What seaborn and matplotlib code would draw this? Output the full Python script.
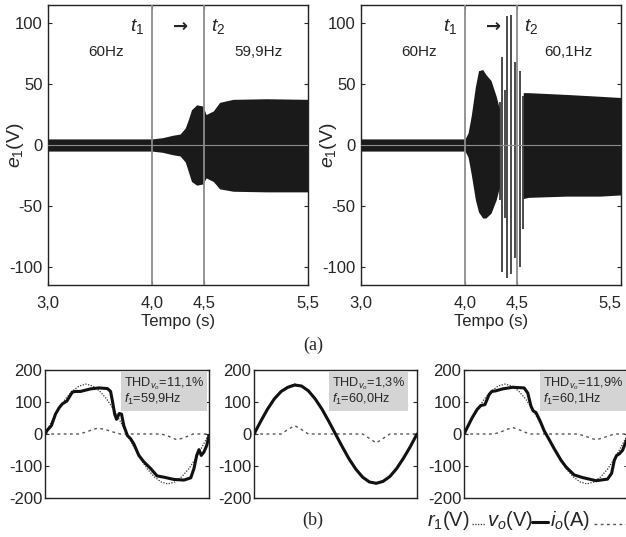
import numpy as np
import pandas as pd
import matplotlib.pyplot as plt
import seaborn as sns
from matplotlib.lines import Line2D

sns.set_style("ticks")
plt.rcParams['font.family'] = ['Liberation Sans', 'DejaVu Sans']
plt.rcParams['mathtext.fontset'] = 'custom'
plt.rcParams['mathtext.rm'] = 'Liberation Sans'
plt.rcParams['mathtext.it'] = 'Liberation Sans:italic'
plt.rcParams['axes.unicode_minus'] = False

# ---- (a) envelopes of e1 ----
t_a1 = [3.0, 4.0, 4.1, 4.2, 4.27, 4.32, 4.35, 4.38, 4.43, 4.49, 4.52, 4.59, 4.65, 4.78, 5.1, 5.5]
up_a1 = [5, 5, 6, 8, 9, 14, 21, 29, 33, 32, 25, 28, 35, 37.5, 38, 37.5]
lo_a1 = [-5, -5, -6, -8, -9, -14, -22, -30, -33, -32, -27, -30, -36, -38, -38.5, -38.5]

t_a2 = [3.0, 4.0, 4.03, 4.06, 4.1, 4.13, 4.17, 4.2, 4.25, 4.3, 4.33]
up_a2 = [5, 5, 10, 24, 48, 61, 62, 58, 53, 40, 30]
lo_a2 = [-5, -5, -10, -24, -45, -55, -60, -60, -56, -45, -35]
spike_t = [4.34, 4.36, 4.385, 4.40, 4.44, 4.48, 4.53, 4.555]
spike_top = [35, 72, 45, 106, 107, 68, 61, 40]
spike_bot = [-45, -104, -60, -109, -106, -93, -100, -69]
t_a3 = [4.56, 4.61, 4.98, 5.3, 5.5]
up_a3 = [43, 43, 41.5, 40, 39]
lo_a3 = [-44, -43, -42, -42, -41]

# ---- (b) one cycle, phase in degrees ----
deg = [0, 15, 30, 45, 60, 75, 90, 105, 120, 135, 150, 165, 180,
       195, 210, 225, 240, 255, 270, 285, 300, 315, 330, 345, 360]
r1 = [0, 40, 78, 110, 134, 150, 156, 150, 134, 110, 78, 40, 0,
      -40, -78, -110, -134, -150, -156, -150, -134, -110, -78, -40, 0]

vo1_x = [0, 5, 14, 23, 31, 38, 48, 60, 67, 78, 100, 118, 137, 144, 148, 153, 157, 163, 168, 173,
         181, 188, 195, 206, 217, 232, 246, 261, 283, 305, 320, 327, 333, 338, 343, 349, 355, 360]
vo1_y = [0, 12, 26, 62, 82, 94, 103, 131, 133, 133, 141, 144, 142, 133, 103, 62, 46, 64, 62, 26,
         -5, -15, -31, -67, -87, -108, -131, -135, -142, -144, -137, -108, -67, -49, -67, -56, -36, -5]
io1_x = [0, 75, 90, 105, 115, 130, 150, 165, 255, 270, 280, 290, 305, 325, 360]
io1_y = [0, 0, 6, 14, 18, 15, 6, 0, 0, -6, -13, -18, -12, 0, 0]

vo2 = [0, 40, 78, 110, 133, 146, 153, 150, 135, 110, 78, 40, 0,
       -40, -78, -110, -135, -150, -154, -148, -133, -108, -76, -40, 0]
io2_x = [0, 60, 75, 90, 105, 120, 240, 255, 270, 285, 300, 360]
io2_y = [0, 0, 14, 26, 14, 0, 0, -14, -28, -14, 0, 0]

vo3_x = [0, 7, 18, 29, 37, 46, 55, 61, 70, 85, 107, 132, 140, 147, 152, 158, 167, 176, 186,
         198, 213, 224, 231, 242, 260, 290, 315, 324, 330, 335, 341, 348, 355, 360]
vo3_y = [0, 20, 51, 77, 89, 92, 123, 133, 135, 141, 146, 144, 128, 87, 72, 67, 41, 10, -15,
         -46, -82, -103, -113, -128, -136, -146, -141, -123, -82, -67, -62, -51, -26, -8]
io3_x = [0, 66, 80, 95, 107, 120, 143, 250, 265, 280, 290, 305, 330, 360]
io3_y = [0, 0, 6, 15, 20, 14, 0, 0, -6, -14, -18, -12, 0, 0]

fig = plt.figure(figsize=(6.26, 5.37), dpi=100)
W, H = 626, 537

def px_axes(l, r, t, b):
    return fig.add_axes([l / W, 1 - b / H, (r - l) / W, (b - t) / H])

# ---------- top panels ----------
top1 = px_axes(48, 308, 5, 285)
top2 = px_axes(361, 621, 5, 285)

top1.fill_between(t_a1, lo_a1, up_a1, color='#1a1a1a', lw=0, zorder=2)
top2.fill_between(t_a2, lo_a2, up_a2, color='#1a1a1a', lw=0, zorder=2)
top2.vlines(spike_t, spike_bot, spike_top, color='#1a1a1a', lw=1.1, zorder=2)
top2.fill_between(t_a3, lo_a3, up_a3, color='#1a1a1a', lw=0, zorder=2)

labels_a = [("59,9Hz", 5.02), ("60,1Hz", 4.99)]
for ax, (hz, hx) in zip([top1, top2], labels_a):
    ax.axhline(0, color='#8c8c8c', lw=0.8, zorder=3)
    ax.axvline(4.0, color='#8c8c8c', lw=1.3, zorder=3)
    ax.axvline(4.5, color='#8c8c8c', lw=1.3, zorder=3)
    ax.set_xlim(3.0, 5.5)
    ax.set_ylim(-115, 115)
    ax.set_xticks([3.0, 4.0, 4.5, 5.5])
    ax.set_xticklabels(["3,0", "4,0", "4,5", "5,5"])
    ax.set_yticks([-100, -50, 0, 50, 100])
    ax.tick_params(direction='in', length=3, width=0.8, top=True, right=True, labelsize=12)
    ax.tick_params(axis='x', pad=8)
    ax.tick_params(axis='y', pad=4)
    for s in ax.spines.values():
        s.set_linewidth(1.0)
        s.set_color('#222222')
    ax.set_xlabel("Tempo (s)", fontsize=12, labelpad=2)
    ax.set_ylabel("$e_1$(V)", fontsize=14)
    ax.yaxis.set_label_coords(-0.085, 0.5)
    ax.text(3.56, 76, "60Hz", ha='center', va='center', fontsize=11)
    ax.text(hx, 76, hz, ha='center', va='center', fontsize=11)
    ax.text(3.93, 97, "$t_1$", ha='right', va='center', fontsize=14)
    ax.text(4.57, 97, "$t_2$", ha='left', va='center', fontsize=14)
    ax.text(4.27, 97, "→", ha='center', va='center', fontsize=13, fontweight='bold',
            family=['DejaVu Sans'])

# last tick label of the right panel sits inside the figure edge
top2.get_xticklabels()[-1].set_ha('right')
top2.get_xticklabels()[-1].set_x(5.52)

fig.text(313 / W, 1 - 345 / H, "(a)", ha='center', va='center', fontsize=13,
         family=['Liberation Serif'])

# ---------- bottom panels ----------
bot1 = px_axes(45, 209, 370, 498)
bot2 = px_axes(254, 417, 370, 498)
bot3 = px_axes(464, 628, 370, 498)

panels = [
    (bot1, vo1_x, vo1_y, io1_x, io1_y, "THD$_{v_o}$=11,1%\n$f_1$=59,9Hz"),
    (bot2, deg, vo2, io2_x, io2_y, "THD$_{v_o}$=1,3%\n$f_1$=60,0Hz"),
    (bot3, vo3_x, vo3_y, io3_x, io3_y, "THD$_{v_o}$=11,9%\n$f_1$=60,1Hz"),
]
for ax, vx, vy, ix, iy, note in panels:
    sns.lineplot(x=ix, y=iy, ax=ax, color='#555555', lw=1.0, linestyle=(0, (2, 2.5)),
                 sort=False, estimator=None)
    sns.lineplot(x=deg, y=r1, ax=ax, color='#333333', lw=0.9, linestyle=(0, (1, 1.2)),
                 sort=False, estimator=None)
    sns.lineplot(x=vx, y=vy, ax=ax, color='#111111', lw=2.2, sort=False, estimator=None)
    ax.set_xlim(0, 360)
    ax.set_ylim(-200, 200)
    ax.set_xticks([])
    ax.set_yticks([-200, -100, 0, 100, 200])
    ax.tick_params(direction='in', length=3, width=0.8, right=True, labelsize=12, pad=2)
    for s in ax.spines.values():
        s.set_linewidth(1.0)
        s.set_color('#222222')
    ax.text(0.48, 0.955, note, transform=ax.transAxes, ha='left', va='top',
            fontsize=9.2, linespacing=1.0,
            bbox=dict(boxstyle='square,pad=0.25', facecolor='#d4d4d4', edgecolor='none'))

fig.text(313 / W, 1 - 520 / H, "(b)", ha='center', va='center', fontsize=13,
         family=['Liberation Serif'])

# legend drawn as text + line samples
ly = 1 - 520 / H
fig.text(427 / W, ly, "$r_1$(V)", ha='left', va='center', fontsize=14.5)
fig.add_artist(Line2D([472 / W, 485 / W], [1 - 524 / H] * 2, color='#333333', lw=0.9,
                      linestyle=(0, (1, 1.2))))
fig.text(487 / W, ly, "$v_o$(V)", ha='left', va='center', fontsize=14.5)
fig.add_artist(Line2D([532 / W, 548 / W], [1 - 522 / H] * 2, color='#111111', lw=2.2))
fig.text(550 / W, ly, "$i_o$(A)", ha='left', va='center', fontsize=14.5)
fig.add_artist(Line2D([594 / W, 626 / W], [1 - 524 / H] * 2, color='#555555', lw=1.0,
                      linestyle=(0, (2, 2.5))))

fig.savefig("out.png", dpi=100)
